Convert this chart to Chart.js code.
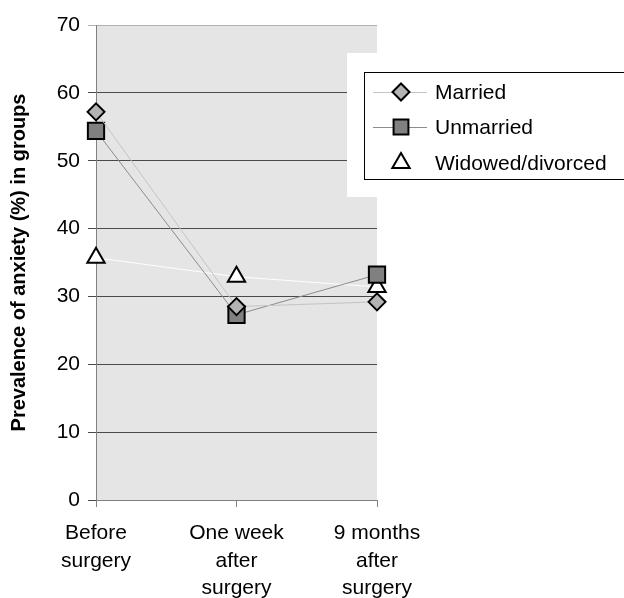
<!DOCTYPE html>
<html>
<head>
<meta charset="utf-8">
<script src="https://cdn.jsdelivr.net/npm/chart.js@4/dist/chart.umd.min.js"></script>
<style>
  body { margin: 0; background: #fff; }
  canvas { display: block; }
</style>
</head>
<body>
<canvas id="anxiety-chart" width="624" height="598"></canvas>
<script>
// values
var periods = [['Before', 'surgery'], ['One week', 'after', 'surgery'], ['9 months', 'after', 'surgery']]
var married = [57.2, 28.5, 29.2]
var unmarried = [54.4, 27.3, 33.2]
var widowed = [35.7, 32.9, 31.4]
var yTicks = [0, 10, 20, 30, 40, 50, 60, 70]

var font = 'Liberation Sans, Arial, sans-serif'

// grey plot area behind everything
var plotBg = {
    id: 'plotBg',
    beforeDraw: function (chart) {
        var a = chart.chartArea
        var ctx = chart.ctx
        ctx.save()
        ctx.fillStyle = '#e5e5e5'
        ctx.fillRect(a.left, a.top, a.right - a.left, a.bottom - a.top)
        ctx.restore()
    }
}

// white box + legend drawn over the right part of the plot
var boxLegend = {
    id: 'boxLegend',
    beforeDatasetsDraw: function (chart) {
        var ctx = chart.ctx
        ctx.save()
        ctx.fillStyle = '#ffffff'
        ctx.fillRect(347, 53, 624 - 347, 197 - 53)
        ctx.restore()
    },
    afterDraw: function (chart) {
        var ctx = chart.ctx
        ctx.save()
        ctx.strokeStyle = '#000'
        ctx.lineWidth = 1
        ctx.strokeRect(364.5, 72.5, 300, 107)
        var rows = [92, 127, 163]
        chart.data.datasets.forEach(function (ds, i) {
            var y = rows[i]
            ctx.strokeStyle = ds.borderColor
            ctx.lineWidth = 1
            ctx.beginPath()
            ctx.moveTo(373, y + 0.5)
            ctx.lineTo(427, y + 0.5)
            ctx.stroke()
            ctx.fillStyle = ds.pointBackgroundColor
            ctx.strokeStyle = ds.pointBorderColor
            ctx.lineWidth = 2
            Chart.helpers.drawPoint(ctx, {
                pointStyle: ds.pointStyle,
                radius: ds.legendRadius,
                rotation: 0,
                borderWidth: 2
            }, 401, y)
            ctx.fillStyle = '#000'
            ctx.font = '21px ' + font
            ctx.textBaseline = 'middle'
            ctx.fillText(ds.label, 435, y + 1)
        })
        ctx.restore()
    }
}

new Chart(document.getElementById('anxiety-chart'), {
    type: 'line',
    data: {
        labels: periods,
        datasets: [{
            label: 'Married',
            data: married,
            borderColor: '#c4c4c4',
            borderWidth: 1,
            pointStyle: 'rectRot',
            pointRadius: 8.5,
            legendRadius: 8.5,
            pointBackgroundColor: '#b4b4b4',
            pointBorderColor: '#000',
            pointBorderWidth: 2
        }, {
            label: 'Unmarried',
            data: unmarried,
            borderColor: '#8c8c8c',
            borderWidth: 1,
            pointStyle: 'rect',
            pointRadius: 11.5,
            legendRadius: 10.5,
            pointBackgroundColor: '#808080',
            pointBorderColor: '#000',
            pointBorderWidth: 2
        }, {
            label: 'Widowed/divorced',
            data: widowed,
            borderColor: '#ffffff',
            borderWidth: 1,
            pointStyle: 'triangle',
            pointRadius: 10,
            legendRadius: 10,
            pointBackgroundColor: '#ffffff',
            pointBorderColor: '#000',
            pointBorderWidth: 2
        }]
    },
    options: {
        responsive: false,
        animation: false,
        layout: { padding: { left: 0, top: 25, right: 247, bottom: 0 } },
        plugins: {
            legend: { display: false },
            tooltip: { enabled: false }
        },
        scales: {
            x: {
                offset: false,
                afterFit: function (scale) { scale.height = 98 },
                grid: {
                    drawOnChartArea: false,
                    drawTicks: true,
                    tickLength: 7,
                    color: '#808080'
                },
                border: { color: '#808080', width: 1 },
                ticks: {
                    color: '#000',
                    padding: 13,
                    maxRotation: 0,
                    font: { family: font, size: 21, lineHeight: 1.3 }
                }
            },
            y: {
                min: 0,
                max: 70,
                afterFit: function (scale) { scale.width = 96 },
                afterBuildTicks: function (scale) {
                    scale.ticks = yTicks.map(function (v) { return { value: v } })
                },
                grid: {
                    drawTicks: true,
                    tickLength: 8,
                    color: function (c) {
                        return c.tick && c.tick.value === 70 ? '#b0b0b0' : '#4a4a4a'
                    }
                },
                border: { color: '#808080', width: 1 },
                ticks: {
                    color: '#000',
                    padding: 8,
                    font: { family: font, size: 21 }
                },
                title: {
                    display: true,
                    text: 'Prevalence of anxiety (%) in groups',
                    color: '#000',
                    padding: { top: 7, bottom: 0 },
                    font: { family: font, size: 20, weight: 'bold' }
                }
            }
        }
    },
    plugins: [plotBg, boxLegend]
})
</script>
</body>
</html>
